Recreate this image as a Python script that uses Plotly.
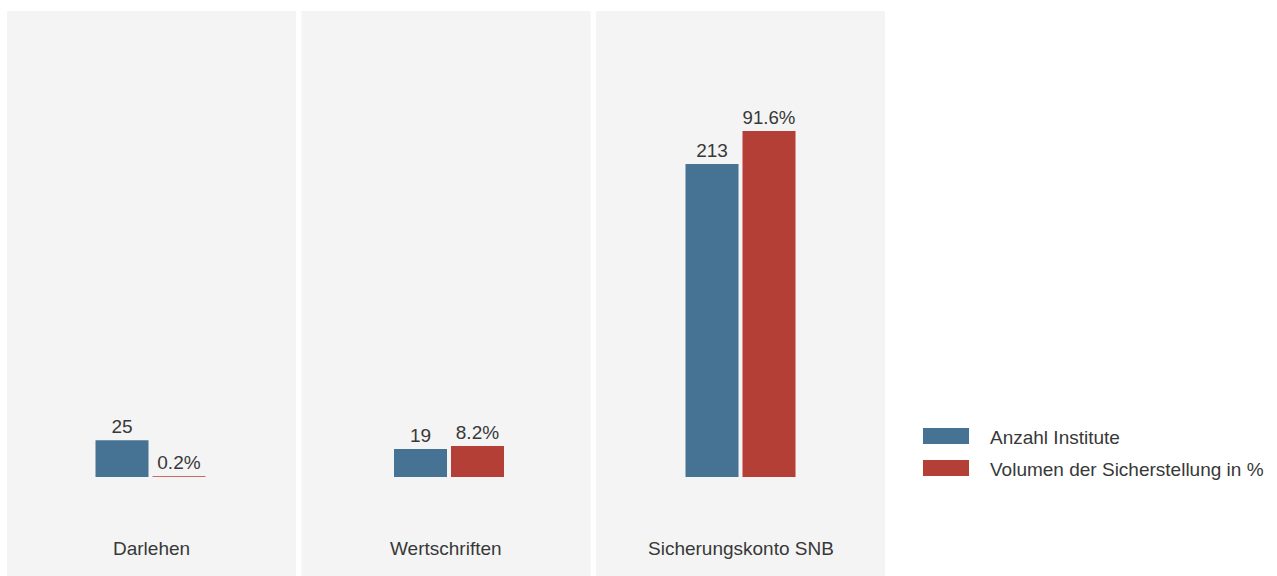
import plotly.graph_objects as go

# ---- data ----
categories = ["Darlehen", "Wertschriften", "Sicherungskonto SNB"]
series_names = ["Anzahl Institute", "Volumen der Sicherstellung in %"]
anzahl_institute = [25, 19, 213]
volumen_pct = [0.2, 8.2, 91.6]
volumen_labels = ["0.2%", "8.2%", "91.6%"]

# ---- styles ----
BLUE = "#467294"
RED = "#b43f36"
PANEL_BG = "#f4f4f4"
TEXT = "#383838"
FONT = "Liberation Sans, Arial, sans-serif"
FS = 19

W, H = 1277, 576
L, R, T, B = 7, 392, 11, 0
plot_w = W - L - R
plot_h = H - T - B
panel_px = 289.0
gap_px = (plot_w - 3 * panel_px) / 2
panel_shift_px = [-0.5, 3.5, 0.5]   # small horizontal nudge of bar pairs per panel

# baseline placement and scales
base_px = 477 - T
below_px = H - B - 477
blue_top = 213 * (base_px / 313.0)
blue_bot = -213 * (below_px / 313.0)
red_top = 91.6 * (base_px / 346.0)
red_bot = -91.6 * (below_px / 346.0)

bar_w = 53 / panel_px

fig = go.Figure()
layout = dict(
    width=W, height=H,
    margin=dict(l=L, r=R, t=T, b=B, pad=0),
    paper_bgcolor="white",
    plot_bgcolor=PANEL_BG,
    showlegend=False,
    font=dict(family=FONT, size=FS, color=TEXT),
    barmode="overlay",
    annotations=[],
    shapes=[],
)

for i, cat in enumerate(categories):
    n = i + 1
    xa = "x" if n == 1 else f"x{n}"
    ya = f"y{2*n-1}" if n > 1 else "y"
    yb = f"y{2*n}"
    xk = "xaxis" if n == 1 else f"xaxis{n}"
    ya_k = "yaxis" if n == 1 else f"yaxis{2*n-1}"
    yb_k = f"yaxis{2*n}"
    d0 = (i * (panel_px + gap_px)) / plot_w
    d1 = (i * (panel_px + gap_px) + panel_px) / plot_w
    blue_off = (-55.5 + panel_shift_px[i]) / panel_px
    red_off = (1.5 + panel_shift_px[i]) / panel_px

    fig.add_trace(go.Bar(
        x=[cat], y=[anzahl_institute[i]], xaxis=xa, yaxis=ya,
        name=series_names[0], marker=dict(color=BLUE, line=dict(width=0)),
        width=bar_w, offset=blue_off,
        text=[str(anzahl_institute[i])], textposition="outside",
        textfont=dict(size=FS, color=TEXT, family=FONT),
        cliponaxis=False, hoverinfo="skip",
    ))
    fig.add_trace(go.Bar(
        x=[cat], y=[volumen_pct[i]], xaxis=xa, yaxis=yb,
        name=series_names[1], marker=dict(color=RED, line=dict(width=0)),
        width=bar_w, offset=red_off,
        text=[volumen_labels[i]], textposition="outside",
        textfont=dict(size=FS, color=TEXT, family=FONT),
        cliponaxis=False, hoverinfo="skip",
    ))

    layout[xk] = dict(domain=[d0, d1], anchor=ya, type="category",
                      range=[-0.5, 0.5], showticklabels=False, showgrid=False,
                      zeroline=False, showline=False, ticks="", fixedrange=True)
    layout[ya_k] = dict(anchor=xa, range=[blue_bot, blue_top], visible=False,
                        showgrid=False, zeroline=False, fixedrange=True)
    layout[yb_k] = dict(anchor=xa, overlaying=ya, range=[red_bot, red_top],
                        visible=False, showgrid=False, zeroline=False,
                        fixedrange=True)

    layout["annotations"].append(dict(
        text=cat, showarrow=False,
        xref=f"{xa} domain", x=0.5, xanchor="center",
        yref=f"{ya} domain", y=(H - B - 548) / plot_h, yanchor="middle",
        font=dict(size=FS, color=TEXT, family=FONT),
    ))

# custom legend (swatches + labels) in the right margin
legend_colors = [BLUE, RED]
for j, name in enumerate(series_names):
    yc = 436 + 32 * j
    y0 = 1 - (yc + 8 - T) / plot_h
    y1 = 1 - (yc - 8 - T) / plot_h
    x0 = (923 - L) / plot_w
    x1 = (969 - L) / plot_w
    layout["shapes"].append(dict(type="rect", xref="paper", yref="paper",
                                 x0=x0, x1=x1, y0=y0, y1=y1,
                                 fillcolor=legend_colors[j], line=dict(width=0)))
    layout["annotations"].append(dict(
        text=name, showarrow=False, xref="paper", yref="paper",
        x=(988 - L) / plot_w, xanchor="left",
        y=1 - (yc + 1 - T) / plot_h, yanchor="middle",
        font=dict(size=FS, color=TEXT, family=FONT),
    ))

fig.update_layout(**layout)
fig.write_html(
    "out.html",
    config={"displayModeBar": False, "staticPlot": True},
    post_script="document.body.style.margin='0';document.body.style.padding='0';",
)
